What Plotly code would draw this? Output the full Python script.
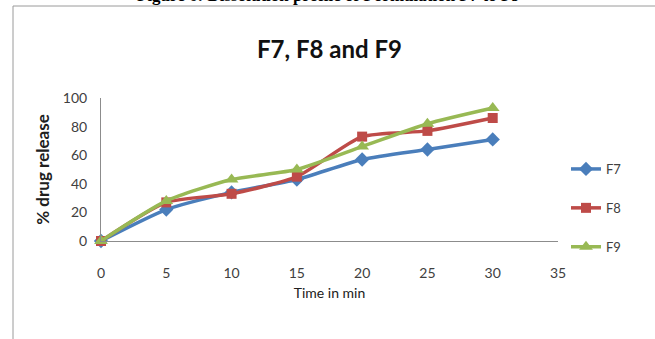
import plotly.graph_objects as go

time_min = [0, 5, 10, 15, 20, 25, 30]
f7 = [0, 22, 34, 43, 57, 64, 71]
f8 = [0, 27, 33, 45, 73, 77, 86]
f9 = [0, 28, 43, 50, 66, 82, 93]
x_ticks = [0, 5, 10, 15, 20, 25, 30, 35]
y_ticks = [0, 20, 40, 60, 80, 100]

series = [
    ("F7", f7, "#4A7EBB", "diamond", 11),
    ("F8", f8, "#BE4B48", "square", 10),
    ("F9", f9, "#98B954", "triangle-up", 12),
]

fig = go.Figure()
for i, (name, vals, col, sym, ms) in enumerate(series):
    fig.add_trace(go.Scatter(
        x=time_min, y=vals, name=name, mode="lines+markers",
        line=dict(color=col, width=3.5, shape="spline", smoothing=0.6),
        marker=dict(symbol=sym, size=ms, color=col),
        cliponaxis=False, legendgroup=name,
    ))

L, R, T, B = 101, 97, 98, 98
W, H = 655, 339
pw = W - L - R
ph = H - T - B

def px(xp):
    return (xp - L) / pw

def py(yp):
    return (H - B - yp) / ph

fig.update_layout(
    width=W, height=H,
    margin=dict(l=L, r=R, t=T, b=B),
    paper_bgcolor="white", plot_bgcolor="white",
    font=dict(family="Lato", color="#404040"),
    showlegend=True,
    legend=dict(x=px(566), y=py(208), xanchor="left", yanchor="middle",
                font=dict(size=13, color="#404040"), tracegroupgap=19,
                itemwidth=30, bgcolor="rgba(0,0,0,0)"),
    xaxis=dict(range=[0, 35], tickvals=x_ticks, showgrid=False, zeroline=False,
               showline=True, linecolor="#8c8c8c", linewidth=1,
               tickfont=dict(size=14, color="#404040"), ticks="",
               ticklabelstandoff=19,
               title=dict(text="Time in min", font=dict(size=14, color="#202020"), standoff=8)),
    yaxis=dict(range=[0, 100], tickvals=y_ticks, showgrid=False, zeroline=False,
               showline=True, linecolor="#8c8c8c", linewidth=1,
               tickfont=dict(size=14, color="#404040"), ticks="",
               ticklabelstandoff=10,
               title=dict(text="<b>% drug release</b>", font=dict(size=17, color="#202020"), standoff=8)),
    title=dict(text="<b>F7, F8 and F9</b>", x=0.5, xref="paper", xanchor="center",
               y=1 - 50 / H, yanchor="middle",
               font=dict(size=24, color="#111111", family="Lato")),
)

fig.add_shape(type="rect", xref="paper", yref="paper",
              x0=px(13), x1=px(660), y0=py(345), y1=py(6),
              line=dict(color="#9a9a9a", width=1), fillcolor="rgba(0,0,0,0)", layer="below")

fig.add_annotation(text="<b>Figure 6: Dissolution profile of Formulation F7 to F9</b>",
                   xref="paper", yref="paper", x=px(328), y=py(7),
                   xanchor="center", yanchor="bottom", showarrow=False,
                   font=dict(family="Liberation Serif", size=17, color="#000000"))

fig.write_html("out.html")
